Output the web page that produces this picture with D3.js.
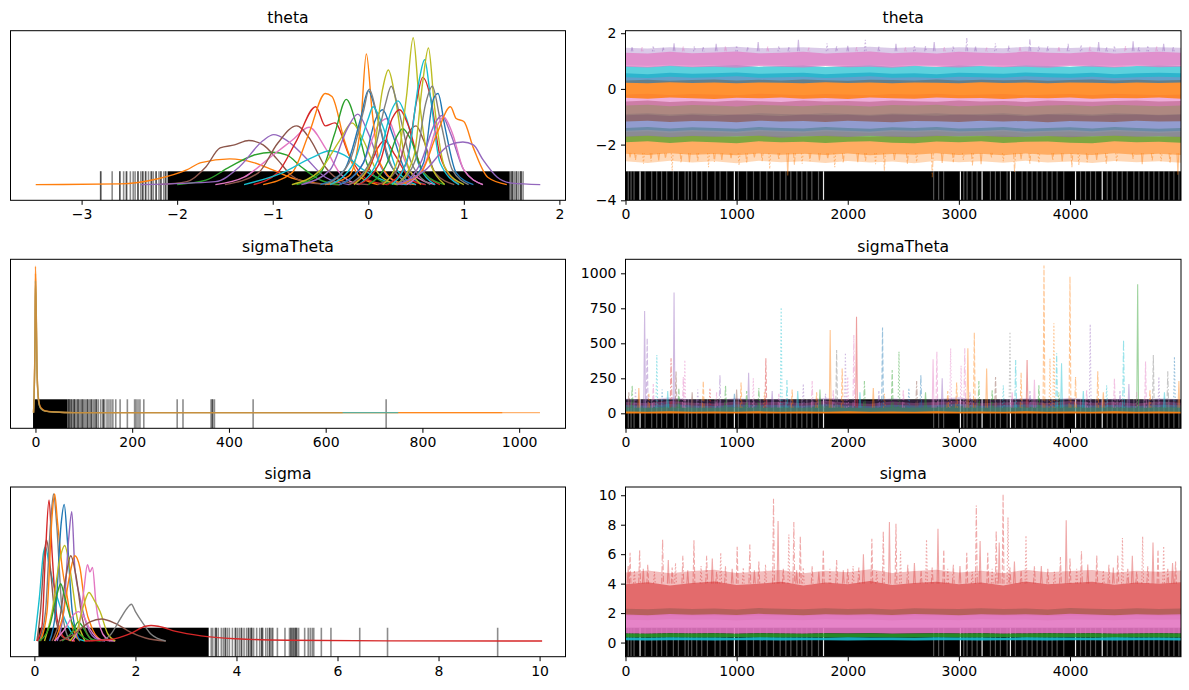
<!DOCTYPE html>
<html>
<head>
<meta charset="utf-8">
<script src="https://cdn.jsdelivr.net/npm/d3@7"></script>
<style>
  body { margin: 0; background: #fff; }
  svg { font-family: "DejaVu Sans", sans-serif; }
</style>
</head>
<body>
<svg id="fig" width="1189" height="690"></svg>
<script>
// ---------- data ----------
const titles = ["theta", "sigmaTheta", "sigma"];

// tick labels
const thetaKdeTicks = [-3, -2, -1, 0, 1, 2];
const sigmaThetaKdeTicks = [0, 200, 400, 600, 800, 1000];
const sigmaKdeTicks = [0, 2, 4, 6, 8, 10];
const traceXTicks = [0, 1000, 2000, 3000, 4000];
const thetaTraceYTicks = [-4, -2, 0, 2];
const sigmaThetaTraceYTicks = [0, 250, 500, 750, 1000];
const sigmaTraceYTicks = [0, 2, 4, 6, 8, 10];

// KDE curves: [value, density relative to the tallest peak]; var index -> tab10 colour
const thetaKde = [
  [[-3.48,0],[-2.6,0.005],[-2.2,0.04],[-1.9,0.1],[-1.75,0.15],[-1.45,0.175],[-1.2,0.15],[-1.0,0.1],[-0.8,0.045],[-0.55,0.01],[-0.3,0]],
  [[-2.2,0],[-1.9,0.02],[-1.7,0.12],[-1.55,0.25],[-1.4,0.27],[-1.25,0.3],[-1.1,0.27],[-0.95,0.17],[-0.8,0.06],[-0.6,0.01],[-0.3,0]],
  [[-2.0,0],[-1.7,0.03],[-1.45,0.12],[-1.2,0.2],[-1.0,0.22],[-0.85,0.2],[-0.7,0.12],[-0.5,0.03],[-0.3,0]],
  [[-2.38,0],[-1.6,0.02],[-1.35,0.12],[-1.1,0.3],[-0.99,0.34],[-0.85,0.3],[-0.65,0.18],[-0.45,0.05],[-0.2,0]],
  [[-1.6,0],[-1.3,0.05],[-1.0,0.2],[-0.8,0.3],[-0.62,0.39],[-0.45,0.25],[-0.3,0.08],[-0.1,0]],
  [[-1.5,0],[-1.15,0.08],[-0.95,0.28],[-0.75,0.4],[-0.6,0.3],[-0.45,0.12],[-0.25,0.02],[0,0]],
  [[-1.2,0],[-0.95,0.08],[-0.75,0.3],[-0.55,0.53],[-0.45,0.4],[-0.35,0.42],[-0.2,0.2],[0.0,0.03],[0.2,0]],
  [[-1.1,0],[-0.8,0.08],[-0.62,0.35],[-0.45,0.62],[-0.38,0.6],[-0.25,0.3],[-0.1,0.06],[0.1,0]],
  [[-1.3,0],[-0.9,0.08],[-0.6,0.18],[-0.4,0.23],[-0.25,0.2],[-0.05,0.1],[0.2,0.02],[0.4,0]],
  [[-0.75,0],[-0.5,0.08],[-0.35,0.35],[-0.23,0.58],[-0.12,0.4],[0.0,0.12],[0.15,0.02],[0.3,0]],
  [[-0.8,0],[-0.5,0.1],[-0.3,0.3],[-0.17,0.42],[-0.05,0.3],[0.1,0.08],[0.3,0]],
  [[-0.7,0],[-0.4,0.1],[-0.22,0.38],[-0.11,0.48],[0,0.35],[0.15,0.1],[0.35,0]],
  [[-0.3,0],[-0.05,0.15],[0.1,0.4],[0.2,0.45],[0.3,0.3],[0.45,0.08],[0.7,0]],
  [[-0.3,0],[-0.05,0.15],[0.08,0.45],[0.15,0.51],[0.25,0.35],[0.4,0.08],[0.6,0]],
  [[-0.2,0],[0.0,0.1],[0.1,0.25],[0.17,0.3],[0.28,0.2],[0.45,0.03],[0.6,0]],
  [[-0.45,0],[-0.2,0.06],[-0.08,0.4],[-0.02,0.89],[0.04,0.5],[0.12,0.15],[0.3,0.02],[0.5,0]],
  [[-0.5,0],[-0.25,0.1],[-0.08,0.45],[0.0,0.64],[0.08,0.5],[0.22,0.15],[0.45,0]],
  [[-0.45,0],[-0.2,0.15],[-0.05,0.5],[0.01,0.65],[0.1,0.45],[0.25,0.12],[0.45,0]],
  [[-0.4,0],[-0.15,0.15],[0.0,0.45],[0.05,0.53],[0.15,0.4],[0.3,0.1],[0.5,0]],
  [[-0.15,0],[0.05,0.2],[0.15,0.65],[0.21,0.78],[0.28,0.6],[0.38,0.2],[0.55,0]],
  [[-0.2,0],[0.05,0.2],[0.18,0.55],[0.24,0.67],[0.32,0.5],[0.45,0.15],[0.65,0]],
  [[-0.1,0],[0.12,0.2],[0.24,0.5],[0.31,0.57],[0.4,0.45],[0.52,0.15],[0.7,0]],
  [[-0.1,0],[0.12,0.15],[0.25,0.45],[0.33,0.51],[0.42,0.4],[0.55,0.12],[0.75,0]],
  [[0.0,0],[0.2,0.15],[0.3,0.33],[0.36,0.38],[0.45,0.3],[0.58,0.08],[0.8,0]],
  [[0.1,0],[0.3,0.1],[0.42,0.35],[0.5,0.4],[0.58,0.3],[0.7,0.08],[0.9,0]],
  [[0.15,0],[0.3,0.15],[0.4,0.6],[0.47,1.0],[0.53,0.6],[0.62,0.2],[0.8,0]],
  [[0.2,0],[0.4,0.15],[0.5,0.55],[0.57,0.73],[0.65,0.6],[0.75,0.2],[0.95,0]],
  [[0.25,0],[0.42,0.2],[0.53,0.7],[0.59,0.85],[0.65,0.6],[0.75,0.15],[0.95,0]],
  [[0.3,0],[0.48,0.2],[0.57,0.7],[0.63,0.93],[0.69,0.55],[0.8,0.12],[1.0,0]],
  [[0.4,0],[0.58,0.15],[0.68,0.58],[0.73,0.62],[0.8,0.4],[0.92,0.08],[1.1,0]],
  [[0.3,0],[0.5,0.18],[0.6,0.55],[0.67,0.67],[0.75,0.45],[0.88,0.1],[1.05,0]],
  [[0.35,0],[0.55,0.15],[0.7,0.42],[0.77,0.47],[0.86,0.35],[1.0,0.1],[1.2,0]],
  [[0.4,0],[0.6,0.15],[0.72,0.4],[0.79,0.46],[0.88,0.35],[1.0,0.1],[1.2,0]],
  [[0.3,0],[0.55,0.08],[0.72,0.35],[0.86,0.53],[0.92,0.45],[1.0,0.43],[1.1,0.25],[1.25,0.05],[1.45,0]],
  [[0.3,0],[0.6,0.1],[0.85,0.27],[0.99,0.29],[1.1,0.27],[1.2,0.17],[1.35,0.05],[1.5,0.01],[1.8,0]]
];
const thetaKdeVar = [1,5,2,4,6,5,3,1,9,2,8,4,6,0,3,1,0,7,9,8,7,9,3,2,5,8,3,9,8,0,7,4,6,1,4];

const sigmaThetaKde = [
  [[-4,0],[-1,0.45],[0,0.85],[1.5,0.65],[3,0.3],[5,0.13],[8,0.05],[12,0.025],[20,0.01],[40,0.004],[80,0],[1043,0]],
  [[-4,0],[-1,0.5],[0,1.0],[1.5,0.75],[3,0.35],[5,0.15],[8,0.06],[12,0.03],[20,0.012],[40,0.004],[80,0],[965,0]],
  [[-4,0],[-1,0.45],[0,0.9],[1.5,0.7],[3,0.32],[5,0.14],[8,0.05],[12,0.025],[20,0.01],[40,0.004],[80,0],[750,0]],
  [[-4,0],[-1,0.48],[0,0.95],[1.5,0.72],[3,0.33],[5,0.14],[8,0.055],[12,0.028],[20,0.011],[40,0.004],[80,0],[635,0]]
];
const sigmaThetaKdeVar = [1, 1, 9, 1];

const sigmaKde = [
  [[0.0,0],[0.1,0.3],[0.18,0.6],[0.22,0.64],[0.3,0.5],[0.45,0.3],[0.6,0.15],[0.8,0.03],[1.0,0]],
  [[0.05,0],[0.12,0.2],[0.2,0.6],[0.24,0.69],[0.3,0.55],[0.4,0.2],[0.55,0.03],[0.8,0]],
  [[0.05,0],[0.15,0.1],[0.22,0.6],[0.29,0.96],[0.35,0.6],[0.45,0.15],[0.6,0.02],[0.8,0]],
  [[0.1,0],[0.22,0.2],[0.32,0.8],[0.38,1.0],[0.44,0.8],[0.55,0.2],[0.7,0]],
  [[0.12,0],[0.25,0.2],[0.35,0.85],[0.4,1.0],[0.46,0.8],[0.55,0.5],[0.65,0.3],[0.75,0.1],[0.9,0]],
  [[0.3,0],[0.42,0.2],[0.53,0.8],[0.59,0.93],[0.65,0.7],[0.75,0.2],[0.9,0]],
  [[0.2,0],[0.35,0.2],[0.5,0.55],[0.6,0.65],[0.7,0.5],[0.85,0.15],[1.0,0]],
  [[0.45,0],[0.58,0.2],[0.68,0.7],[0.74,0.88],[0.8,0.5],[0.9,0.3],[1.0,0.15],[1.2,0.02],[1.4,0]],
  [[0.4,0],[0.55,0.15],[0.7,0.45],[0.8,0.58],[0.9,0.5],[1.0,0.25],[1.15,0.08],[1.35,0]],
  [[0.35,0],[0.5,0.15],[0.63,0.45],[0.72,0.58],[0.82,0.45],[0.95,0.15],[1.15,0]],
  [[0.1,0],[0.3,0.1],[0.45,0.32],[0.52,0.39],[0.6,0.3],[0.75,0.12],[0.95,0.03],[1.1,0]],
  [[0.55,0],[0.75,0.06],[0.87,0.13],[0.95,0.1],[1.1,0.02],[1.3,0]],
  [[0.4,0],[0.6,0.08],[0.78,0.18],[0.87,0.2],[0.97,0.17],[1.1,0.08],[1.3,0.01],[1.6,0]],
  [[0.75,0],[0.88,0.1],[0.98,0.35],[1.05,0.52],[1.1,0.47],[1.15,0.5],[1.22,0.25],[1.35,0.05],[1.5,0]],
  [[0.7,0],[0.85,0.08],[0.98,0.25],[1.08,0.33],[1.18,0.28],[1.3,0.2],[1.45,0.05],[1.6,0]],
  [[0.5,0],[0.8,0.05],[1.1,0.13],[1.33,0.15],[1.6,0.12],[1.9,0.06],[2.2,0.02],[2.6,0]],
  [[1.3,0],[1.5,0.04],[1.7,0.15],[1.85,0.23],[1.92,0.25],[2.0,0.2],[2.15,0.12],[2.3,0.05],[2.6,0]],
  [[1.0,0],[1.5,0.01],[1.9,0.05],[2.2,0.1],[2.31,0.105],[2.45,0.1],[2.8,0.065],[3.3,0.035],[4.0,0.015],[5.0,0.005],[7.0,0.001],[10.05,0]]
];
const sigmaKdeVar = [9,5,3,7,1,0,8,4,1,5,2,2,6,6,8,5,7,3];

// rugs of divergent draws under the KDEs: dense core span + single marks
const thetaRugCore = [-2.1, 1.48];
const thetaRug = [-2.8,-2.8,-2.68,-2.6,-2.6,-2.56,-2.53,-2.53,-2.49,-2.46,-2.44,-2.41,-2.41,-2.38,-2.36,-2.36,-2.33,-2.33,-2.3,-2.27,-2.27,-2.25,-2.22,-2.22,-2.19,-2.17,-2.17,-2.14,-2.12,-2.12,
  1.49,1.5,1.51,1.51,1.53,1.55,1.55,1.57,1.59,1.6,1.6,1.62];
const sigmaThetaRugCore = [-5, 66];
const sigmaThetaRug = [67,69,69,71,74,74,77,80,80,82,85,88,88,91,94,97,97,100,103,107,107,110,113,116,116,120,123,126,126,130,135,140,140,143,148,152,156,160,166,175,190,205,208,212,216,224,293,305,363,366,366,370,450,725];
const sigmaRugCore = [0.08, 3.45];
const sigmaRug = [3.5,3.53,3.58,3.6,3.6,3.64,3.7,3.74,3.78,3.78,3.82,3.86,3.92,3.98,3.98,4.02,4.06,4.1,4.1,4.15,4.2,4.24,4.24,4.28,4.3,4.3,4.34,4.4,4.46,4.5,4.5,4.52,4.58,4.62,4.66,4.66,4.7,4.72,
  4.81,4.96,5.05,5.08,5.08,5.12,5.12,5.16,5.16,5.19,5.19,5.23,5.35,5.42,5.46,5.5,5.53,5.68,5.87,6.44,6.99,9.17];

// trace rug: non-divergent draws show as gaps in the black strip
const rugGapsBright = [131, 980, 1782, 3014, 3209, 3464, 4050, 4290];
const rugGapsDim = [25,50,77,176,236,281,325,371,431,476,536,566,596,641,686,737,806,851,911,1016,1091,1152,1212,1272,1332,1392,1443,1488,1542,1587,1632,1677,1737,
  2773,2818,2863,3044,3074,3119,3164,3284,3329,3374,3434,3509,3569,3614,3659,3704,3749,3794,3839,3884,3944,4095,4140,4185,4230,4335,4380,4425,4470,4515,4575,4620,4665,4710,4755,4800,4845,4890,4935,4980];

// trace envelopes sampled every 200 draws
const traceDraws = [0,200,400,600,800,1000,1200,1400,1600,1800,2000,2200,2400,2600,2800,3000,3200,3400,3600,3800,4000,4200,4400,4600,4800,5000];

const thetaBandVar = [1,1,2,4,0,5,6,1,0,9,4,6];
const thetaBandLo = [
  [-2.6,-2.66,-2.58,-2.64,-2.6,-2.67,-2.58,-2.63,-2.6,-2.66,-2.59,-2.64,-2.61,-2.67,-2.58,-2.63,-2.6,-2.65,-2.58,-2.64,-2.61,-2.66,-2.59,-2.63,-2.6,-2.65],
  [-2.33,-2.37,-2.31,-2.36,-2.34,-2.38,-2.32,-2.36,-2.33,-2.37,-2.32,-2.38,-2.34,-2.36,-2.31,-2.37,-2.33,-2.38,-2.32,-2.36,-2.34,-2.37,-2.31,-2.36,-2.33,-2.37],
  [-1.92,-1.88,-1.94,-1.89,-1.92,-1.95,-1.88,-1.92,-1.9,-1.94,-1.9,-1.88,-1.93,-1.95,-1.89,-1.92,-1.88,-1.94,-1.9,-1.89,-1.93,-1.95,-1.88,-1.92,-1.9,-1.93],
  [-1.72,-1.68,-1.74,-1.69,-1.72,-1.7,-1.68,-1.75,-1.7,-1.69,-1.73,-1.68,-1.72,-1.74,-1.69,-1.7,-1.68,-1.73,-1.72,-1.69,-1.74,-1.7,-1.68,-1.72,-1.7,-1.73],
  [-1.5,-1.47,-1.52,-1.48,-1.5,-1.53,-1.47,-1.5,-1.52,-1.47,-1.5,-1.53,-1.48,-1.5,-1.47,-1.52,-1.5,-1.47,-1.53,-1.5,-1.48,-1.52,-1.47,-1.5,-1.53,-1.5],
  [-1.17,-1.14,-1.19,-1.15,-1.16,-1.2,-1.14,-1.17,-1.15,-1.19,-1.14,-1.17,-1.2,-1.15,-1.16,-1.19,-1.14,-1.17,-1.15,-1.2,-1.15,-1.17,-1.19,-1.14,-1.17,-1.16],
  [-0.6,-0.57,-0.62,-0.58,-0.6,-0.63,-0.57,-0.6,-0.62,-0.58,-0.6,-0.63,-0.58,-0.6,-0.57,-0.62,-0.6,-0.58,-0.63,-0.6,-0.58,-0.62,-0.57,-0.6,-0.62,-0.6],
  [-0.32,-0.35,-0.31,-0.34,-0.36,-0.32,-0.34,-0.31,-0.35,-0.33,-0.36,-0.31,-0.34,-0.35,-0.31,-0.34,-0.33,-0.36,-0.32,-0.34,-0.31,-0.35,-0.33,-0.34,-0.31,-0.35],
  [0.22,0.2,0.24,0.21,0.23,0.2,0.23,0.22,0.2,0.24,0.21,0.23,0.2,0.23,0.22,0.2,0.24,0.21,0.23,0.2,0.23,0.22,0.2,0.23,0.21,0.23],
  [0.42,0.39,0.44,0.4,0.42,0.45,0.4,0.42,0.44,0.39,0.42,0.45,0.4,0.42,0.39,0.44,0.42,0.4,0.45,0.42,0.4,0.44,0.39,0.42,0.44,0.42],
  [0.85,0.83,0.87,0.84,0.86,0.82,0.87,0.85,0.83,0.87,0.84,0.86,0.82,0.87,0.85,0.83,0.87,0.84,0.86,0.82,0.87,0.85,0.83,0.87,0.84,0.86],
  [0.8,0.77,0.82,0.78,0.8,0.76,0.82,0.8,0.77,0.82,0.78,0.8,0.76,0.82,0.8,0.77,0.82,0.78,0.8,0.76,0.82,0.8,0.77,0.82,0.78,0.8]
];
const thetaBandHi = [
  [-1.55,-1.52,-1.57,-1.53,-1.55,-1.58,-1.52,-1.55,-1.57,-1.52,-1.55,-1.58,-1.53,-1.55,-1.52,-1.57,-1.55,-1.52,-1.58,-1.55,-1.53,-1.57,-1.52,-1.55,-1.58,-1.55],
  [-1.7,-1.67,-1.72,-1.68,-1.7,-1.73,-1.67,-1.7,-1.72,-1.67,-1.7,-1.73,-1.68,-1.7,-1.67,-1.72,-1.7,-1.67,-1.73,-1.7,-1.68,-1.72,-1.67,-1.7,-1.73,-1.7],
  [-1.4,-1.37,-1.42,-1.38,-1.4,-1.43,-1.37,-1.4,-1.42,-1.37,-1.4,-1.43,-1.38,-1.4,-1.37,-1.42,-1.4,-1.37,-1.43,-1.4,-1.38,-1.42,-1.37,-1.4,-1.43,-1.4],
  [-0.95,-0.92,-0.97,-0.93,-0.96,-0.92,-0.94,-0.97,-0.92,-0.95,-0.93,-0.96,-0.92,-0.94,-0.96,-0.92,-0.95,-0.93,-0.97,-0.92,-0.94,-0.96,-0.93,-0.92,-0.95,-0.93],
  [-0.9,-0.87,-0.92,-0.88,-0.9,-0.93,-0.87,-0.9,-0.92,-0.87,-0.9,-0.93,-0.88,-0.9,-0.87,-0.92,-0.9,-0.87,-0.93,-0.9,-0.88,-0.92,-0.87,-0.9,-0.93,-0.9],
  [-0.45,-0.42,-0.47,-0.43,-0.46,-0.42,-0.44,-0.47,-0.42,-0.45,-0.43,-0.46,-0.42,-0.44,-0.46,-0.42,-0.45,-0.43,-0.47,-0.42,-0.44,-0.46,-0.43,-0.42,-0.45,-0.43],
  [-0.2,-0.17,-0.22,-0.18,-0.2,-0.23,-0.17,-0.2,-0.22,-0.18,-0.2,-0.23,-0.18,-0.2,-0.17,-0.22,-0.2,-0.18,-0.23,-0.2,-0.18,-0.22,-0.17,-0.2,-0.22,-0.2],
  [0.3,0.33,0.29,0.32,0.34,0.3,0.33,0.3,0.34,0.31,0.29,0.33,0.32,0.3,0.34,0.3,0.33,0.31,0.33,0.29,0.32,0.34,0.3,0.33,0.3,0.32],
  [0.56,0.53,0.58,0.54,0.56,0.59,0.54,0.56,0.58,0.53,0.56,0.59,0.54,0.56,0.53,0.58,0.56,0.54,0.59,0.56,0.54,0.58,0.53,0.56,0.58,0.56],
  [0.82,0.79,0.84,0.8,0.83,0.85,0.8,0.82,0.84,0.79,0.82,0.85,0.8,0.83,0.79,0.84,0.82,0.8,0.85,0.82,0.8,0.84,0.79,0.82,0.84,0.82],
  [1.48,1.45,1.5,1.46,1.49,1.51,1.46,1.48,1.5,1.46,1.49,1.51,1.47,1.5,1.46,1.5,1.48,1.46,1.51,1.48,1.47,1.5,1.45,1.49,1.5,1.48],
  [1.3,1.27,1.33,1.28,1.31,1.34,1.28,1.3,1.33,1.27,1.31,1.34,1.28,1.32,1.27,1.33,1.3,1.28,1.34,1.3,1.28,1.33,1.27,1.31,1.33,1.3]
];

const sigmaThetaBandVar = [4,6,9,2,1];
const sigmaThetaBandLo = [
  [3,3,3,3,3,3,3,3,3,3,3,3,3,3,3,3,3,3,3,3,3,3,3,3,3,3],
  [3,3,3,3,3,3,3,3,3,3,3,3,3,3,3,3,3,3,3,3,3,3,3,3,3,3],
  [3,3,3,3,3,3,3,3,3,3,3,3,3,3,3,3,3,3,3,3,3,3,3,3,3,3],
  [3,3,3,3,3,3,3,3,3,3,3,3,3,3,3,3,3,3,3,3,3,3,3,3,3,3],
  [-2,-2,-2,-2,-2,-2,-2,-2,-2,-2,-2,-2,-2,-2,-2,-2,-2,-2,-2,-2,-2,-2,-2,-2,-2,-2]
];
const sigmaThetaBandHi = [
  [105,95,115,98,92,110,96,104,94,112,98,90,108,96,102,115,94,100,108,95,112,97,104,93,108,100],
  [80,72,88,75,70,85,76,82,72,90,75,68,84,74,80,88,72,78,85,73,88,75,82,70,84,76],
  [60,54,66,56,52,63,57,60,54,65,56,51,62,56,59,66,54,58,63,55,65,56,60,52,62,57],
  [45,40,49,42,39,47,42,45,40,50,42,38,46,42,44,50,40,43,47,41,48,42,45,39,46,43],
  [13,11,14,12,13,11,14,12,13,12,14,11,13,12,14,11,13,12,14,11,13,12,14,12,13,12]
];

const sigmaBandVar = [3,3,5,6,2,9];
const sigmaBandLo = [
  [1.8,1.8,1.8,1.8,1.8,1.8,1.8,1.8,1.8,1.8,1.8,1.8,1.8,1.8,1.8,1.8,1.8,1.8,1.8,1.8,1.8,1.8,1.8,1.8,1.8,1.8],
  [1.85,1.82,1.88,1.84,1.86,1.8,1.87,1.85,1.82,1.88,1.84,1.86,1.8,1.87,1.85,1.82,1.88,1.84,1.86,1.8,1.87,1.85,1.82,1.88,1.84,1.86],
  [1.55,1.52,1.58,1.54,1.56,1.5,1.57,1.55,1.52,1.58,1.54,1.56,1.5,1.57,1.55,1.52,1.58,1.54,1.56,1.5,1.57,1.55,1.52,1.58,1.54,1.56],
  [0.62,0.6,0.64,0.61,0.63,0.6,0.64,0.62,0.6,0.63,0.61,0.64,0.6,0.62,0.63,0.61,0.64,0.6,0.62,0.63,0.61,0.64,0.6,0.62,0.63,0.61],
  [0.35,0.34,0.36,0.35,0.34,0.36,0.35,0.34,0.36,0.35,0.34,0.36,0.35,0.34,0.36,0.35,0.34,0.36,0.35,0.34,0.36,0.35,0.34,0.36,0.35,0.34],
  [0.15,0.14,0.16,0.15,0.14,0.16,0.15,0.14,0.16,0.15,0.14,0.16,0.15,0.14,0.16,0.15,0.14,0.16,0.15,0.14,0.16,0.15,0.14,0.16,0.15,0.14]
];
const sigmaBandHi = [
  [4.75,4.9,4.7,4.85,4.95,4.72,4.82,4.92,4.7,4.88,4.78,4.98,4.72,4.86,4.94,4.76,4.88,4.7,4.95,4.78,4.85,4.92,4.74,4.88,4.8,4.9],
  [3.95,4.1,3.88,4.05,4.15,3.9,4.0,4.12,3.88,4.08,3.96,4.18,3.9,4.05,4.12,3.95,4.08,3.88,4.15,3.96,4.04,4.12,3.92,4.08,4.0,4.1],
  [2.3,2.26,2.33,2.28,2.31,2.24,2.34,2.3,2.26,2.33,2.28,2.31,2.24,2.33,2.3,2.27,2.33,2.28,2.31,2.25,2.34,2.3,2.26,2.33,2.28,2.31],
  [1.9,1.86,1.94,1.88,1.92,1.87,1.95,1.9,1.86,1.93,1.88,1.92,1.87,1.94,1.9,1.86,1.93,1.88,1.92,1.87,1.95,1.9,1.86,1.93,1.88,1.92],
  [0.62,0.6,0.64,0.61,0.63,0.6,0.64,0.62,0.6,0.63,0.61,0.64,0.6,0.62,0.63,0.61,0.64,0.6,0.62,0.63,0.61,0.64,0.6,0.62,0.63,0.61],
  [0.35,0.33,0.36,0.34,0.35,0.33,0.36,0.34,0.35,0.33,0.36,0.34,0.35,0.33,0.36,0.34,0.35,0.33,0.36,0.34,0.35,0.33,0.36,0.34,0.35,0.33]
];

// single excursions of the traces: [draw, value, var]
const thetaSpikesTop = [[59,1.5,4],[150,1.5,6],[250,1.55,4],[340,1.48,4],[437,1.64,4],[520,1.52,6],[620,1.53,4],[700,1.5,4],[816,1.62,4],[900,1.54,6],[1000,1.56,4],[1100,1.49,4],[1194,1.68,4],[1280,1.52,6],[1380,1.54,4],[1470,1.5,4],[1556,1.76,4],[1650,1.48,6],[1814,1.64,4],[1900,1.53,4],[2000,1.55,4],[2080,1.5,6],[2158,1.76,4],[2280,1.52,4],[2434,1.62,4],[2520,1.49,6],[2600,1.57,4],[2700,1.54,4],[2778,1.68,4],[2870,1.5,6],[2950,1.54,4],[3071,1.83,4],[3150,1.52,4],[3250,1.48,6],[3329,1.64,4],[3450,1.56,4],[3550,1.5,6],[3639,1.8,4],[3720,1.53,4],[3800,1.53,4],[3900,1.5,6],[3983,1.62,4],[4100,1.58,4],[4180,1.52,6],[4258,1.68,4],[4330,1.49,4],[4400,1.55,4],[4500,1.54,6],[4568,1.71,4],[4620,1.5,4],[4700,1.56,4],[4780,1.52,6],[4843,1.62,4],[4930,1.5,4]];
const thetaSpikesLow = [[41,-2.46,1],[90,-2.55,1],[162,-2.69,1],[230,-2.6,1],[299,-2.57,1],[360,-2.5,1],[420,-2.93,1],[500,-2.66,1],[575,-2.63,1],[650,-2.58,1],[747,-2.81,1],[800,-2.62,1],[867,-2.55,1],[950,-2.52,1],[1022,-2.75,1],[1090,-2.68,1],[1160,-2.46,1],[1230,-2.6,1],[1298,-2.87,1],[1380,-2.55,1],[1460,-3.11,1],[1520,-2.72,1],[1590,-2.69,1],[1660,-2.6,1],[1745,-2.57,1],[1820,-2.52,1],[1883,-2.81,1],[1960,-2.66,1],[2090,-2.63,1],[2160,-2.58,1],[2250,-2.7,1],[2330,-2.93,1],[2420,-2.55,1],[2537,-2.69,1],[2620,-2.62,1],[2761,-3.17,1],[2850,-2.66,1],[2950,-2.63,1],[3040,-2.55,1],[3122,-2.75,1],[3200,-2.7,1],[3294,-2.46,1],[3400,-2.6,1],[3501,-2.99,1],[3560,-2.52,1],[3639,-2.69,1],[3720,-2.66,1],[3845,-2.57,1],[3930,-2.6,1],[4017,-2.81,1],[4080,-2.74,1],[4155,-2.63,1],[4240,-2.55,1],[4327,-2.69,1],[4420,-2.62,1],[4568,-2.51,1],[4650,-2.7,1],[4740,-2.57,1],[4820,-2.6,1],[4900,-2.68,1],[4971,-3.08,1]];
const sigmaThetaSpikes = [[172,731,4],[195,536,4],[282,417,9],[410,393,3],[437,862,4],[455,298,5],[534,381,6],[850,274,4],[1108,290,4],[1263,393,3],[1401,757,9],[1453,238,9],[1842,595,1],[1900,452,7],[1979,433,4],[2055,560,6],[2079,690,3],[2313,612,0],[2461,440,2],[2658,274,0],[2768,386,6],[2802,440,6],[2926,464,6],[3053,464,6],[3081,464,1],[3139,576,1],[3460,583,7],[3511,381,9],[3614,381,3],[3766,1055,1],[3855,643,1],[3880,429,9],[3924,357,9],[4000,976,1],[4182,636,4],[4482,524,9],[4609,921,2],[4750,417,7],[4940,405,0],
  [60,200,2],[120,180,1],[250,210,6],[330,170,0],[520,260,6],[600,150,5],[700,230,1],[760,180,3],[900,200,2],[980,140,0],[1040,220,1],[1150,250,6],[1200,180,2],[1320,160,4],[1500,170,1],[1600,210,4],[1680,230,6],[1750,170,2],[1950,320,1],[2000,260,6],[2150,230,2],[2230,180,1],[2400,310,2],[2550,180,0],[2620,230,5],[2850,250,4],[2980,220,1],[3020,340,6],[3180,230,2],[3250,320,1],[3330,260,5],[3400,200,9],[3560,290,1],[3680,240,6],[3720,200,2],[3820,390,1],[4050,260,1],[4120,160,9],[4250,300,1],[4330,200,9],[4400,250,6],[4530,210,4],[4680,370,6],[4800,260,4],[4880,300,7],[4980,230,1],
  [30,150,5],[90,170,4],[210,140,1],[380,160,9],[480,180,2],[650,170,4],[820,150,6],[1000,170,5],[1090,160,2],[1250,150,1],[1380,140,6],[1550,160,9],[1720,150,1],[1800,140,4],[1870,170,6],[2110,150,9],[2280,160,4],[2330,140,1],[2500,170,6],[2700,150,2],[2900,160,1],[3100,150,4],[3300,170,2],[3480,150,6],[3640,160,4],[3900,150,2],[4150,170,6],[4300,150,1],[4450,160,4],[4600,150,6],[4720,170,1],[4850,150,9]];
const sigmaSpikes = [[24,5.2,3],[41,6.1,3],[80,4.9,3],[127,6.3,3],[160,5.0,3],[200,5.3,3],[260,4.8,3],[334,7.0,3],[385,5.6,3],[420,5.1,3],[450,5.4,3],[516,5.9,3],[560,4.9,3],[616,6.95,3],[680,5.2,3],[730,5.9,3],[781,5.7,3],[820,4.8,3],[857,6.1,3],[900,5.2,3],[960,5.0,3],[1005,6.5,3],[1060,5.1,3],[1119,6.65,3],[1160,4.9,3],[1200,5.5,3],[1260,5.3,3],[1332,9.77,3],[1373,8.25,3],[1420,5.0,3],[1470,7.34,3],[1515,8.18,3],[1540,4.9,3],[1573,7.2,3],[1600,5.1,3],[1680,5.2,3],[1740,4.8,3],[1780,6.3,3],[1840,5.0,3],[1900,5.6,3],[1960,4.9,3],[2000,5.0,3],[2048,5.2,3],[2100,5.1,3],[2141,6.0,3],[2217,7.05,3],[2260,4.8,3],[2320,7.57,3],[2375,8.18,3],[2434,8.07,3],[2475,6.2,3],[2540,5.3,3],[2600,5.4,3],[2660,4.9,3],[2709,7.0,3],[2760,5.1,3],[2812,7.73,3],[2864,6.3,3],[2900,5.0,3],[2950,5.3,3],[3010,5.2,3],[3071,6.1,3],[3120,4.8,3],[3157,9.3,3],[3191,6.9,3],[3260,6.1,3],[3300,5.0,3],[3336,7.6,3],[3363,6.8,3],[3398,10.07,3],[3442,8.5,3],[3460,5.1,3],[3500,5.5,3],[3560,4.9,3],[3604,7.27,3],[3680,5.2,3],[3742,5.2,3],[3800,5.0,3],[3860,4.8,3],[3914,5.8,3],[3966,8.3,3],[4000,5.7,3],[4060,5.0,3],[4103,6.2,3],[4160,5.3,3],[4241,5.9,3],[4300,4.9,3],[4350,5.3,3],[4390,5.1,3],[4430,5.9,3],[4472,7.1,3],[4520,5.0,3],[4561,5.9,3],[4600,4.8,3],[4654,7.2,3],[4700,5.2,3],[4747,6.8,3],[4792,6.3,3],[4843,6.55,3],[4880,5.0,3],[4923,5.4,3],[4950,5.5,3]];

// ---------- layout & style ----------
const svg = d3.select("#fig");
const leftX = [10.5, 565.5], rightX = [625.5, 1181];
const rowY = [[30.7, 200.3], [259.3, 428.3], [487, 656.7]];
const color = d3.scaleOrdinal(d3.range(10), d3.schemeCategory10);
const chainDash = [null, "5,2", "1.5,2", "6,2,1.5,2"];
const tickFont = 14, titleFont = 15.6, tickLen = 4.5, tickPad = 4.5;
const rugHeight = 29;
const fmt = d3.format("d");

function clipGroup(id, x0, x1, y0, y1) {
  svg.append("clipPath").attr("id", id)
    .append("rect").attr("x", x0).attr("y", y0).attr("width", x1 - x0).attr("height", y1 - y0);
  return svg.append("g").attr("clip-path", `url(#${id})`);
}

function styleAxis(ax) {
  ax.attr("font-size", tickFont).attr("font-family", "DejaVu Sans");
  ax.select(".domain").remove();
  ax.selectAll(".tick line").attr("stroke-width", 1);
  ax.selectAll(".tick text").attr("fill", "#000");
}

function decorate(x0, x1, y0, y1, title, xAxis, yAxis) {
  svg.append("rect")
    .attr("x", x0).attr("y", y0).attr("width", x1 - x0).attr("height", y1 - y0)
    .attr("fill", "none").attr("stroke", "#000").attr("stroke-width", 1);
  svg.append("text")
    .attr("x", (x0 + x1) / 2).attr("y", y0 - 7.8)
    .attr("text-anchor", "middle").attr("font-size", titleFont).attr("fill", "#000")
    .text(title);
  styleAxis(svg.append("g").attr("transform", `translate(0,${y1})`).call(xAxis));
  if (yAxis) styleAxis(svg.append("g").attr("transform", `translate(${x0},0)`).call(yAxis));
}

function kdePanel(r, xDom, ticks, curves, vars, alpha, core, rug, id) {
  const [y0, y1] = rowY[r];
  const x = d3.scaleLinear(xDom, leftX);
  const y = d3.scaleLinear([-0.107, 1.048], [y1, y0]);
  const g = clipGroup(id, leftX[0], leftX[1], y0, y1);

  g.append("rect")
    .attr("x", x(core[0])).attr("width", x(core[1]) - x(core[0]))
    .attr("y", y1 - rugHeight).attr("height", rugHeight).attr("fill", "#000");
  g.selectAll(".rug").data(rug).join("line")
    .attr("x1", d => x(d)).attr("x2", d => x(d))
    .attr("y1", y1).attr("y2", y1 - rugHeight)
    .attr("stroke", "#000").attr("stroke-opacity", 0.45).attr("stroke-width", 1.6);

  const line = d3.line().x(d => x(d[0])).y(d => y(d[1])).curve(d3.curveMonotoneX);
  g.selectAll(".kde").data(curves).join("path")
    .attr("d", line)
    .attr("fill", "none")
    .attr("stroke", (d, i) => color(vars[i]))
    .attr("stroke-opacity", (d, i) => alpha ? alpha[i] : 1)
    .attr("stroke-width", 1.4);

  decorate(leftX[0], leftX[1], y0, y1, titles[r],
    d3.axisBottom(x).tickValues(ticks).tickFormat(fmt).tickSize(tickLen).tickPadding(tickPad).tickSizeOuter(0), null);
}

function tracePanel(r, yDom, yTicks, lo, hi, vars, alpha, spikeSets, id) {
  const [y0, y1] = rowY[r];
  const x = d3.scaleLinear([0, 4999], rightX);
  const y = d3.scaleLinear(yDom, [y1, y0]);
  const g = clipGroup(id, rightX[0], rightX[1], y0, y1);

  // divergence rug
  g.append("rect")
    .attr("x", x(0)).attr("width", x(4999) - x(0))
    .attr("y", y1 - rugHeight).attr("height", rugHeight).attr("fill", "#000");
  [[rugGapsDim, 0.33], [rugGapsBright, 0.9]].forEach(([gaps, op]) => {
    g.append("g").selectAll("line").data(gaps).join("line")
      .attr("x1", d => x(d)).attr("x2", d => x(d))
      .attr("y1", y1).attr("y2", y1 - rugHeight)
      .attr("stroke", "#fff").attr("stroke-opacity", op).attr("stroke-width", 1.2);
  });

  // trace envelopes
  const area = d3.area().x(d => x(d.draw)).y0(d => y(d.lo)).y1(d => y(d.hi));
  lo.forEach((band, b) => {
    const rows = traceDraws.map((d, i) => ({ draw: d, lo: band[i], hi: hi[b][i] }));
    g.append("path").datum(rows)
      .attr("d", area)
      .attr("fill", color(vars[b]))
      .attr("fill-opacity", alpha[b]);
  });

  // single excursions
  spikeSets.forEach(([spikes, base, op]) => {
    g.append("g").selectAll("path").data(spikes).join("path")
      .attr("d", d => d3.line()([[x(d[0] - 8), y(base)], [x(d[0]), y(d[1])], [x(d[0] + 8), y(base)]]))
      .attr("fill", "none")
      .attr("stroke", d => color(d[2]))
      .attr("stroke-opacity", op)
      .attr("stroke-width", 1.1)
      .attr("stroke-dasharray", (d, i) => chainDash[i % 4]);
  });

  decorate(rightX[0], rightX[1], y0, y1, titles[r],
    d3.axisBottom(x).tickValues(traceXTicks).tickFormat(fmt).tickSize(tickLen).tickPadding(tickPad).tickSizeOuter(0),
    d3.axisLeft(y).tickValues(yTicks).tickFormat(fmt).tickSize(tickLen).tickPadding(tickPad).tickSizeOuter(0));
}

// ---------- panels ----------
kdePanel(0, [-3.744, 2.064], thetaKdeTicks, thetaKde, thetaKdeVar, null, thetaRugCore, thetaRug, "c0");
kdePanel(1, [-51.6, 1095.8], sigmaThetaKdeTicks, sigmaThetaKde, sigmaThetaKdeVar, [0.6, 0.85, 0.7, 0.65], sigmaThetaRugCore, sigmaThetaRug, "c1");
kdePanel(2, [-0.473, 10.513], sigmaKdeTicks, sigmaKde, sigmaKdeVar, null, sigmaRugCore, sigmaRug, "c2");

tracePanel(0, [-4, 2.09], thetaTraceYTicks, thetaBandLo, thetaBandHi, thetaBandVar,
  [0.3, 0.5, 0.6, 0.55, 0.3, 0.7, 0.6, 0.85, 0.7, 0.7, 0.35, 0.7],
  [[thetaSpikesTop, 1.35, 0.45], [thetaSpikesLow, -2.3, 0.45]], "c3");
tracePanel(1, [-107, 1100], sigmaThetaTraceYTicks, sigmaThetaBandLo, sigmaThetaBandHi, sigmaThetaBandVar,
  [0.3, 0.3, 0.3, 0.3, 0.95],
  [[sigmaThetaSpikes, 40, 0.45]], "c4");
tracePanel(2, [-0.96, 10.56], sigmaTraceYTicks, sigmaBandLo, sigmaBandHi, sigmaBandVar,
  [0.3, 0.55, 0.5, 0.9, 0.85, 0.9],
  [[sigmaSpikes, 4.0, 0.4]], "c5");
</script>
</body>
</html>
